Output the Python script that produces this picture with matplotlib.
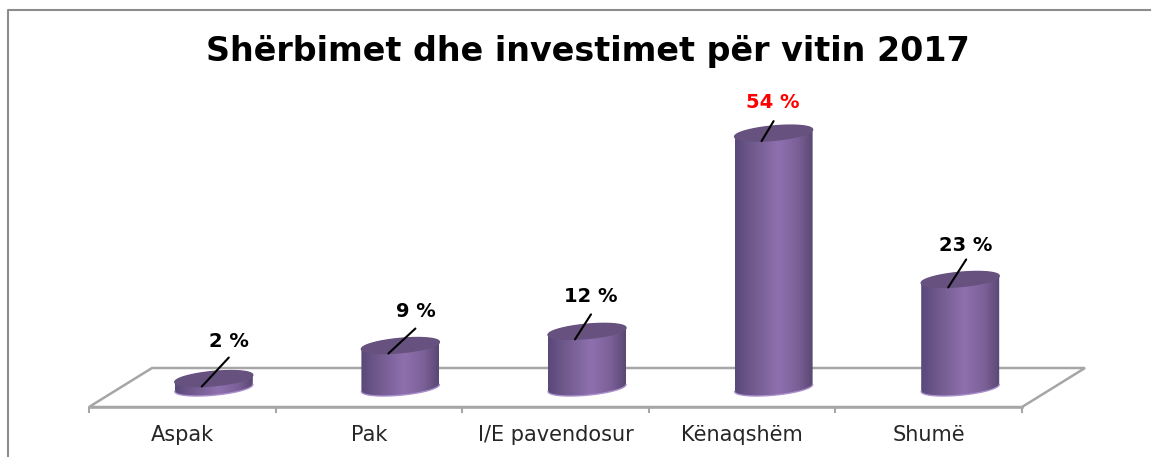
import numpy as np
import matplotlib
matplotlib.use("Agg")
import matplotlib.pyplot as plt
from matplotlib.colors import LinearSegmentedColormap
from matplotlib.lines import Line2D
from matplotlib.patches import Polygon

# data
title = "Shërbimet dhe investimet për vitin 2017"
categories = ["Aspak", "Pak", "I/E pavendosur", "Kënaqshëm", "Shumë"]
values = [2, 9, 12, 54, 23]
value_labels = ["2 %", "9 %", "12 %", "54 %", "23 %"]
label_colors = ["black", "black", "black", "red", "black"]

# label and leader offsets from bar top, in pixels
label_dx = [27, 27, 16, 11, 17]
label_dy = [45, 42, 43, 39, 42]
leader_dx = [27, 27, 16, 12, 18]
leader_dy = [29, 25, 25, 20, 28]

W, H = 1162, 457
AX_L, AX_R, AX_BOTTOM = 89, 1022, 407     # front edge of the floor, px
BAND = (AX_R - AX_L) / 5
PX_PER_UNIT = 4.72
DEPTH_X, DEPTH_Y = 63, 39                 # floor depth, px

fig = plt.figure(figsize=(W / 100, H / 100), dpi=100, facecolor="white")
ax = fig.add_axes([AX_L / W, 1 - AX_BOTTOM / H, (AX_R - AX_L) / W, AX_BOTTOM / H])
ax.set_facecolor("none")
xlim = (0, 5)
ylim = (0, AX_BOTTOM / PX_PER_UNIT)

# floor
ux = 1 / BAND
uy = 1 / PX_PER_UNIT
floor = Polygon([(0, 0), (DEPTH_X * ux, DEPTH_Y * uy), (5 + DEPTH_X * ux, DEPTH_Y * uy), (5, 0)],
                closed=True, facecolor="white", edgecolor="#a6a6a6", lw=1.8, clip_on=False, zorder=1)
ax.add_patch(floor)

# cylinders
cmap = LinearSegmentedColormap.from_list(
    "cyl", [(0, "#59487a"), (0.18, "#6d5789"), (0.55, "#8e70ae"), (0.8, "#7c6199"), (1, "#5a4873")])
gradient = np.linspace(0, 1, 256).reshape(1, -1)
half_w = 39 * ux
ell_b = 7.2 * uy
ell_s = 3.5 * uy
base_shift_x = 31.5 * ux
base_shift_y = (AX_BOTTOM - 388) * uy
t = np.linspace(0, 2 * np.pi, 80)

for i, v in enumerate(values):
    cx = i + 0.5 + base_shift_x
    y0 = base_shift_y
    y1 = y0 + v
    # lower half of the base ellipse, walked from left to right
    tb = np.linspace(np.pi, 2 * np.pi, 40)
    bx = cx + half_w * np.cos(tb)
    by = y0 + ell_b * np.sin(tb) + ell_s * np.cos(tb)
    # upper half of the top ellipse, walked from right to left
    tt = np.linspace(0, np.pi, 40)
    tx = cx + half_w * np.cos(tt)
    ty = y1 + ell_b * np.sin(tt) + ell_s * np.cos(tt)
    verts = np.column_stack([np.r_[bx, tx], np.r_[by, ty]])
    body = Polygon(verts, closed=True, facecolor="none", edgecolor="none", zorder=3)
    ax.add_patch(body)
    im = ax.imshow(gradient, cmap=cmap, extent=(cx - half_w, cx + half_w, y0 - 4, y1 + 4),
                   aspect="auto", zorder=3, interpolation="bilinear")
    im.set_clip_path(body)
    ax.plot(bx, by, color="#a98fcb", lw=1.0, zorder=3)
    top_x = cx + half_w * np.cos(t)
    top_y = y1 + ell_b * np.sin(t) + ell_s * np.cos(t)
    ax.fill(top_x, top_y, color="#67527f", zorder=4)

    # leader and label
    start = (cx - 12 * ux, y1 - 8 * uy)
    ax.annotate("", xy=start, xytext=(leader_dx[i], leader_dy[i]), textcoords="offset pixels",
                arrowprops=dict(arrowstyle="-", color="black", lw=1.5, shrinkA=0, shrinkB=0), zorder=5)
    ax.annotate(value_labels[i], xy=start, xytext=(label_dx[i], label_dy[i]), textcoords="offset pixels",
                ha="center", va="center", fontsize=14, fontweight="bold", color=label_colors[i],
                family="DejaVu Sans", annotation_clip=False, zorder=5)

ax.set_xlim(*xlim)
ax.set_ylim(*ylim)

# axis
for s in ["top", "left", "right"]:
    ax.spines[s].set_visible(False)
ax.spines["bottom"].set_color("#a6a6a6")
ax.spines["bottom"].set_linewidth(1.8)
ax.spines["bottom"].set_zorder(2)
ax.set_yticks([])
ax.set_xticks(range(6))
ax.set_xticklabels([])
ax.tick_params(axis="x", which="major", length=4, width=1.5, color="#a6a6a6")
ax.set_xticks(np.arange(5) + 0.5, minor=True)
ax.set_xticklabels(categories, minor=True, fontsize=15, family="DejaVu Sans", color="#262626")
ax.tick_params(axis="x", which="minor", length=0, pad=13)

fig.text(588 / W, 1 - 51 / H, title, ha="center", va="center", fontsize=24, fontweight="bold",
         family="DejaVu Sans", color="black")

# chart frame
fig.add_artist(Line2D([8 / W, 8 / W, 1150 / W], [0, 1 - 10 / H, 1 - 10 / H],
                      color="#8c8c8c", lw=1.5, transform=fig.transFigure))

fig.savefig("out.png", dpi=100)
